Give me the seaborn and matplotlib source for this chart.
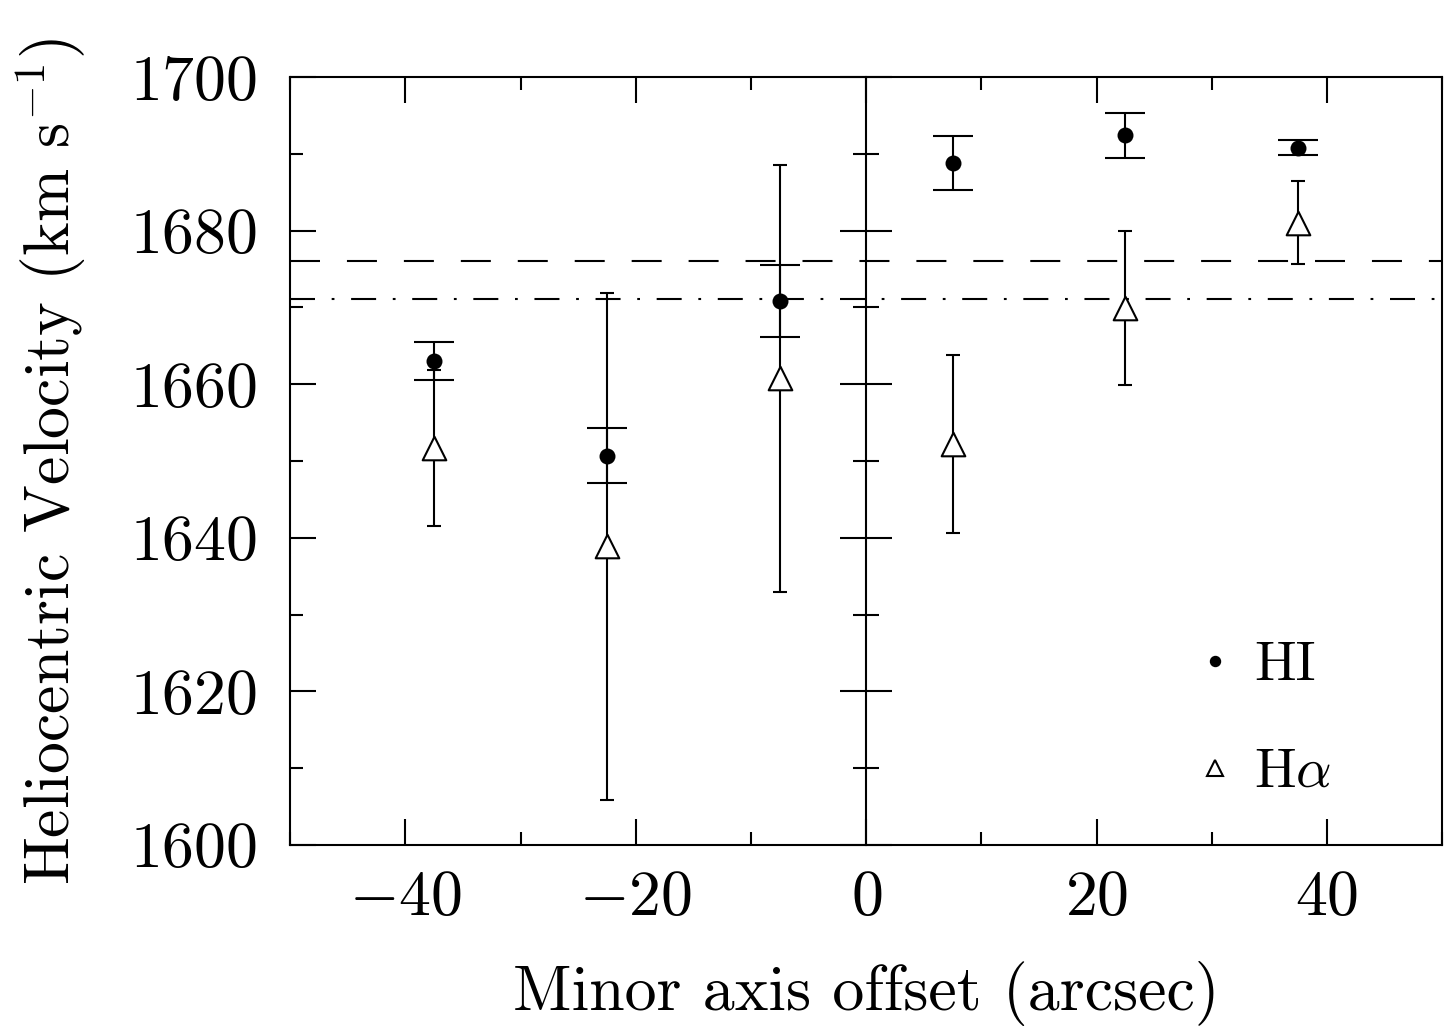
import matplotlib
matplotlib.use("Agg")
import matplotlib.pyplot as plt
import seaborn as sns
import pandas as pd
from matplotlib.lines import Line2D
from matplotlib.ticker import MultipleLocator

# ---- data ----
offsets = [-37.5, -22.5, -7.5, 7.5, 22.5, 37.5]
hi_vel = [1663.0, 1650.7, 1670.8, 1688.8, 1692.4, 1690.8]
hi_err = [2.5, 3.6, 4.7, 3.5, 2.9, 1.0]
ha_vel = [1651.7, 1638.9, 1660.8, 1652.2, 1669.9, 1681.0]
ha_err = [10.2, 33.0, 27.8, 11.6, 10.0, 5.4]
systemic_dashed = 1676.0
systemic_dashdot = 1671.1
x_label = "Minor axis offset (arcsec)"
y_label = r"Heliocentric Velocity (km s$^{-1}$)"
legend_labels = ["HI", r"H$\alpha$"]

sns.set_theme(style="ticks")
plt.rcParams["font.family"] = ["cmr10", "DejaVu Serif"]
plt.rcParams["mathtext.fontset"] = "cm"
plt.rcParams["axes.formatter.use_mathtext"] = True
plt.rcParams["lines.scale_dashes"] = False
plt.rcParams["text.color"] = "black"

fs = 46
lw = 1.5

fig = plt.figure(figsize=(14.54, 10.30), dpi=100)
ax = fig.add_axes([0.1995, 0.1796, 0.992 - 0.1995, 0.9252 - 0.1796])

df_hi = pd.DataFrame({"x": offsets, "v": hi_vel, "e": hi_err})
df_ha = pd.DataFrame({"x": offsets, "v": ha_vel, "e": ha_err})

ax.errorbar(df_hi["x"], df_hi["v"], yerr=df_hi["e"], fmt="none", ecolor="black",
            elinewidth=lw, capsize=14.4, capthick=lw, zorder=3)
ax.errorbar(df_ha["x"], df_ha["v"], yerr=df_ha["e"], fmt="none", ecolor="black",
            elinewidth=lw, capsize=5, capthick=lw, zorder=3)
sns.scatterplot(data=df_hi, x="x", y="v", ax=ax, marker="o", s=11.5**2,
                color="black", edgecolor="black", linewidth=0, zorder=4, legend=False)
sns.scatterplot(data=df_ha, x="x", y="v", ax=ax, marker="^", s=17**2,
                facecolor="white", edgecolor="black", linewidth=lw, zorder=4, legend=False)

ax.axhline(systemic_dashed, color="black", lw=lw, linestyle=(0, (21.6, 19.4)), zorder=2)
ax.axhline(systemic_dashdot, color="black", lw=lw,
           linestyle=(0, (18, 12, 2, 12)), zorder=2)

ax.set_xlim(-50, 50)
ax.set_ylim(1600, 1700)
ax.xaxis.set_major_locator(MultipleLocator(20))
ax.xaxis.set_minor_locator(MultipleLocator(10))
ax.yaxis.set_major_locator(MultipleLocator(20))
ax.yaxis.set_minor_locator(MultipleLocator(10))
ax.tick_params(which="both", direction="in", top=True, right=True, width=lw,
               color="black", labelsize=fs, labelcolor="black")
ax.tick_params(which="major", length=18.7)
ax.tick_params(which="minor", length=9.4)
ax.tick_params(axis="y", pad=24)
ax.tick_params(axis="x", pad=18)
for s in ax.spines.values():
    s.set_linewidth(lw)
    s.set_color("black")

ax.set_xlabel(x_label, fontsize=fs, labelpad=24, color="black")
ax.set_ylabel(y_label, fontsize=fs, labelpad=30, color="black")

# central axis at x = 0 with crossing ticks
ax2 = ax.twinx()
ax2.set_ylim(ax.get_ylim())
ax2.yaxis.set_major_locator(MultipleLocator(20))
ax2.yaxis.set_minor_locator(MultipleLocator(10))
for k in ["left", "top", "bottom"]:
    ax2.spines[k].set_visible(False)
ax2.spines["right"].set_position(("data", 0))
ax2.spines["right"].set_linewidth(lw)
ax2.spines["right"].set_color("black")
ax2.tick_params(which="both", direction="inout", width=lw, labelright=False, color="black")
ax2.tick_params(which="major", length=37.4)
ax2.tick_params(which="minor", length=18.7)

handles = [Line2D([], [], marker="o", color="black", linestyle="none", markersize=7.2),
           Line2D([], [], marker="^", markerfacecolor="white", markeredgecolor="black",
                  markeredgewidth=lw, linestyle="none", markersize=11)]
leg = ax.legend(handles, legend_labels, loc="lower right", bbox_to_anchor=(0.947, -0.004),
                frameon=False, fontsize=40, handlelength=0.6, handletextpad=0.4,
                labelspacing=1.03)

fig.savefig("out.png", dpi=100)
